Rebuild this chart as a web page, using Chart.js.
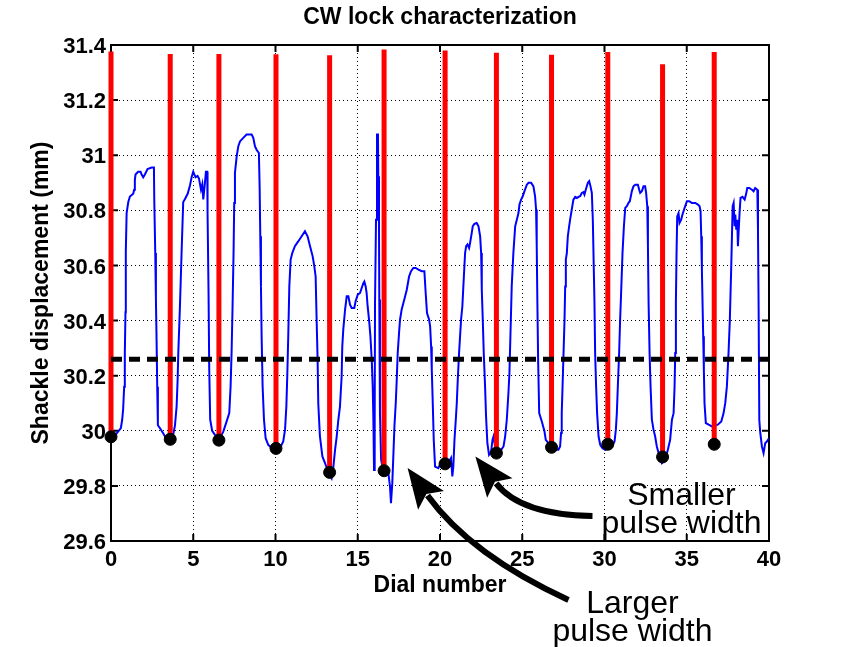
<!DOCTYPE html>
<html>
<head>
<meta charset="utf-8">
<script src="https://cdn.jsdelivr.net/npm/chart.js@4.4.1/dist/chart.umd.min.js"></script>
<style>
  html, body { margin: 0; padding: 0; background: #fff; }
  #wrap { width: 851px; height: 647px; }
</style>
</head>
<body>
<div id="wrap"><canvas id="chart" width="851" height="647"></canvas></div>
<script>
// Données (cadran en abscisse, déplacement en mm)
const dialX = [
  0.0, 0.34, 0.60, 0.68, 0.74, 0.80, 0.84, 0.88, 0.90, 0.95, 1.05, 1.15, 1.35, 1.41, 1.45, 1.49, 1.65, 1.80, 1.86, 1.96,
  2.06, 2.22, 2.47, 2.61, 2.63, 2.69, 2.73, 2.77, 2.81, 2.85, 2.97, 3.18, 3.32, 3.58, 3.78, 3.89, 3.99, 4.05, 4.09, 4.19,
  4.29, 4.39, 4.49, 4.66, 4.80, 4.90, 5.00, 5.14, 5.26, 5.35, 5.47, 5.55, 5.61, 5.71, 5.77, 5.85, 5.87, 5.93, 5.97, 6.03,
  6.15, 6.32, 6.56, 6.83, 7.03, 7.19, 7.27, 7.33, 7.39, 7.45, 7.49, 7.535, 7.64, 7.74, 7.84, 8.04, 8.24, 8.55, 8.65, 8.75,
  8.85, 8.99, 9.035, 9.075, 9.116, 9.156, 9.217, 9.30, 9.40, 9.56, 9.77, 10.03, 10.27, 10.47, 10.58, 10.66, 10.72, 10.78, 10.84, 10.92,
  11.02, 11.18, 11.39, 11.59, 11.79, 11.95, 12.10, 12.26, 12.36, 12.44, 12.50, 12.56, 12.60, 12.70, 12.85, 13.01, 13.20, 13.41, 13.52, 13.62,
  13.72, 13.82, 13.92, 14.02, 14.06, 14.12, 14.23, 14.33, 14.43, 14.53, 14.63, 14.79, 14.87, 15.00, 15.14, 15.24, 15.34, 15.40, 15.48, 15.54,
  15.60, 15.645, 15.705, 15.77, 15.85, 15.91, 15.95, 15.99, 16.03, 16.05, 16.11, 16.17, 16.23, 16.25, 16.29, 16.31, 16.35, 16.42, 16.50, 16.70,
  16.86, 16.96, 17.02, 17.10, 17.17, 17.23, 17.31, 17.37, 17.43, 17.51, 17.57, 17.67, 17.83, 17.98, 18.12, 18.24, 18.38, 18.52, 18.69, 18.89,
  19.05, 19.13, 19.21, 19.34, 19.40, 19.46, 19.50, 19.56, 19.62, 19.70, 19.90, 20.02, 20.21, 20.51, 20.67, 20.75, 20.81, 20.88, 20.96, 21.02,
  21.08, 21.16, 21.22, 21.28, 21.36, 21.42, 21.525, 21.59, 21.67, 21.77, 21.83, 21.93, 21.99, 22.09, 22.23, 22.34, 22.44, 22.50, 22.54, 22.60,
  22.66, 22.74, 22.80, 22.88, 22.98, 23.11, 23.19, 23.25, 23.39, 23.65, 23.86, 23.96, 24.06, 24.16, 24.22, 24.28, 24.36, 24.46, 24.57, 24.67,
  24.77, 24.83, 24.93, 25.03, 25.13, 25.28, 25.38, 25.54, 25.68, 25.78, 25.84, 25.88, 25.92, 25.965, 26.03, 26.19, 26.35, 26.43, 26.59, 26.78,
  27.0, 27.2, 27.30, 27.36, 27.40, 27.45, 27.51, 27.57, 27.61, 27.65, 27.71, 27.77, 27.85, 27.91, 28.01, 28.11, 28.22, 28.32, 28.42, 28.52,
  28.62, 28.72, 28.78, 28.86, 28.99, 29.07, 29.15, 29.23, 29.29, 29.33, 29.39, 29.43, 29.49, 29.55, 29.64, 29.74, 29.88, 30.04, 30.45, 30.61,
  30.69, 30.75, 30.81, 30.89, 30.95, 31.01, 31.095, 31.18, 31.26, 31.36, 31.46, 31.54, 31.60, 31.66, 31.76, 31.87, 32.03, 32.11, 32.17, 32.27,
  32.37, 32.47, 32.53, 32.60, 32.64, 32.68, 32.74, 32.80, 32.88, 32.98, 33.08, 33.18, 33.29, 33.49, 33.69, 33.85, 33.99, 34.10, 34.20, 34.26,
  34.30, 34.34, 34.38, 34.42, 34.50, 34.56, 34.66, 34.74, 34.87, 35.01, 35.15, 35.31, 35.52, 35.68, 35.78, 35.84, 35.88, 35.92, 35.96, 36.00,
  36.04, 36.08, 36.16, 36.33, 36.53, 36.89, 37.10, 37.24, 37.34, 37.44, 37.54, 37.62, 37.70, 37.79, 37.85, 37.91, 37.95, 38.01, 38.07, 38.11,
  38.15, 38.21, 38.27, 38.39, 38.52, 38.60, 38.68, 38.80, 38.96, 39.06, 39.16, 39.29, 39.33, 39.37, 39.41, 39.47, 39.57, 39.67, 39.77, 39.87,
  40.0
];
const shackleMm = [
  29.98, 29.99, 30.01, 30.04, 30.08, 30.16, 30.28, 30.43, 30.65, 30.79, 30.83, 30.85, 30.86, 30.875, 30.91, 30.93, 30.94, 30.94, 30.93, 30.92,
  30.93, 30.95, 30.955, 30.955, 30.84, 30.645, 30.48, 30.33, 30.16, 30.02, 30.01, 29.99, 29.975, 29.965, 29.985, 30.02, 30.09, 30.185, 30.28, 30.45,
  30.645, 30.83, 30.84, 30.86, 30.89, 30.92, 30.94, 30.92, 30.925, 30.915, 30.875, 30.895, 30.84, 30.90, 30.94, 30.94, 30.79, 30.50, 30.23, 30.04,
  30.00, 29.985, 29.965, 29.998, 30.034, 30.064, 30.161, 30.282, 30.45, 30.645, 30.827, 30.936, 30.996, 31.033, 31.05, 31.063, 31.075, 31.075, 31.063, 31.033,
  31.02, 31.008, 30.887, 30.706, 30.524, 30.343, 30.161, 30.04, 29.973, 29.949, 29.937, 29.935, 29.937, 29.961, 30.004, 30.088, 30.209, 30.355, 30.524, 30.621,
  30.645, 30.67, 30.688, 30.706, 30.724, 30.706, 30.67, 30.633, 30.597, 30.56, 30.403, 30.258, 30.10, 29.98, 29.907, 29.883, 29.85, 29.828, 29.87, 29.931,
  29.979, 30.04, 30.088, 30.197, 30.306, 30.367, 30.44, 30.488, 30.488, 30.458, 30.446, 30.446, 30.47, 30.494, 30.50, 30.518, 30.536, 30.542, 30.524, 30.50,
  30.452, 30.427, 30.391, 30.343, 30.258, 30.161, 30.04, 29.858, 30.04, 30.464, 30.766, 31.075, 31.075, 30.924, 30.766, 30.476, 30.064, 29.895, 29.87, 29.858,
  29.846, 29.798, 29.737, 29.81, 29.919, 30.016, 30.10, 30.185, 30.282, 30.355, 30.403, 30.44, 30.476, 30.512, 30.56, 30.579, 30.591, 30.591, 30.585, 30.579,
  30.579, 30.50, 30.427, 30.403, 30.379, 30.306, 30.222, 30.10, 29.967, 29.87, 29.864, 29.88, 29.87, 29.883, 29.901, 29.834, 29.87, 29.967, 30.04, 30.10,
  30.185, 30.282, 30.343, 30.403, 30.452, 30.524, 30.645, 30.67, 30.676, 30.663, 30.682, 30.718, 30.742, 30.751, 30.754, 30.742, 30.706, 30.645, 30.512, 30.403,
  30.282, 30.161, 30.052, 29.955, 29.913, 29.925, 29.967, 29.979, 29.931, 29.925, 29.943, 29.979, 30.04, 30.137, 30.209, 30.343, 30.524, 30.645, 30.742, 30.766,
  30.79, 30.821, 30.839, 30.851, 30.869, 30.893, 30.90, 30.90, 30.887, 30.851, 30.803, 30.67, 30.464, 30.258, 30.064, 30.034, 29.998, 29.967, 29.955, 29.94,
  29.931, 29.931, 29.943, 29.992, 30.064, 30.161, 30.282, 30.403, 30.524, 30.621, 30.645, 30.706, 30.742, 30.766, 30.803, 30.839, 30.849, 30.845, 30.849, 30.851,
  30.863, 30.866, 30.857, 30.875, 30.90, 30.906, 30.887, 30.863, 30.766, 30.645, 30.464, 30.282, 30.161, 30.064, 29.979, 29.949, 29.937, 29.931, 29.943, 29.961,
  30.004, 30.064, 30.161, 30.282, 30.403, 30.50, 30.645, 30.742, 30.809, 30.815, 30.827, 30.833, 30.851, 30.869, 30.887, 30.893, 30.893, 30.875, 30.863, 30.869,
  30.887, 30.887, 30.863, 30.815, 30.67, 30.464, 30.282, 30.161, 30.04, 30.004, 29.979, 29.943, 29.919, 29.883, 29.895, 29.931, 29.967, 30.04, 30.064, 30.161,
  30.282, 30.464, 30.645, 30.778, 30.79, 30.754, 30.766, 30.785, 30.809, 30.833, 30.833, 30.827, 30.827, 30.821, 30.815, 30.797, 30.706, 30.585, 30.464, 30.343,
  30.222, 30.10, 30.028, 30.022, 30.016, 30.022, 30.034, 30.064, 30.10, 30.161, 30.282, 30.403, 30.585, 30.815, 30.827, 30.742, 30.785, 30.73, 30.766, 30.67,
  30.718, 30.79, 30.845, 30.849, 30.839, 30.857, 30.881, 30.881, 30.875, 30.869, 30.881, 30.875, 30.73, 30.44, 30.04, 29.992, 29.943, 29.919, 29.955, 29.961,
  29.973
];

// Impulsions (barres rouges) et minima (points noirs)
const pulseX      = [0.0, 3.6, 6.56, 10.03, 13.29, 16.6, 20.31, 23.43, 26.78, 30.2, 33.53, 36.67];
const pulseBottom = [29.978, 29.969, 29.966, 29.936, 29.849, 29.855, 29.88, 29.919, 29.94, 29.951, 29.905, 29.951];
const pulseTop    = [31.376, 31.367, 31.367, 31.366, 31.363, 31.384, 31.38, 31.372, 31.365, 31.375, 31.33, 31.375];
const thresholdMm = 30.26;

const xTicks = [0, 5, 10, 15, 20, 25, 30, 35, 40];
const yTicks = [29.6, 29.8, 30, 30.2, 30.4, 30.6, 30.8, 31, 31.2, 31.4];

const chartTitle = 'CW lock characterization';

// Annotations (en unités de données)
const notes = [
  { lines: ['Smaller', 'pulse width'], x: 34.68, y: [29.764, 29.662] },
  { lines: ['Larger', 'pulse width'], x: 31.70, y: [29.370, 29.270] },
];
const arrows = [
  { tail: [27.81, 29.386], ctrl: [21.85, 29.550], tip: [18.03, 29.865] },
  { tail: [29.27, 29.691], ctrl: [24.89, 29.695], tip: [22.15, 29.907] },
];

const FONT = "'Liberation Sans', Arial, Helvetica, sans-serif";
Chart.defaults.font.family = FONT;
Chart.defaults.color = '#000';

const tracePts = dialX.map((x, i) => ({ x, y: shackleMm[i] }));
const pulsePts = [];
pulseX.forEach((x, i) => {
  pulsePts.push({ x, y: pulseBottom[i] }, { x, y: pulseTop[i] }, { x, y: null });
});
const minPts = pulseX.map((x, i) => ({ x, y: pulseBottom[i] }));

// Cadre façon MATLAB : boîte complète + graduations vers l'intérieur
const boxPlugin = {
  id: 'box',
  beforeDatasetsDraw(chart) {
    const { ctx, chartArea: a, scales } = chart;
    ctx.save();
    ctx.strokeStyle = '#000';
    ctx.lineWidth = 2;
    ctx.strokeRect(a.left, a.top, a.right - a.left, a.bottom - a.top);
    ctx.beginPath();
    xTicks.forEach(v => {
      const px = scales.x.getPixelForValue(v);
      ctx.moveTo(px, a.bottom); ctx.lineTo(px, a.bottom - 7);
      ctx.moveTo(px, a.top); ctx.lineTo(px, a.top + 7);
    });
    yTicks.forEach(v => {
      const py = scales.y.getPixelForValue(v);
      ctx.moveTo(a.left, py); ctx.lineTo(a.left + 7, py);
      ctx.moveTo(a.right, py); ctx.lineTo(a.right - 7, py);
    });
    ctx.stroke();
    ctx.restore();
  },
  afterDraw(chart) {
    const { ctx, scales, chartArea: area } = chart;
    const px = (p) => [scales.x.getPixelForValue(p[0]), scales.y.getPixelForValue(p[1])];
    ctx.save();
    ctx.fillStyle = '#000';
    ctx.strokeStyle = '#000';
    // titre centré sur la zone de tracé
    ctx.font = `bold 23px ${FONT}`;
    ctx.textAlign = 'center';
    ctx.textBaseline = 'middle';
    ctx.fillText(chartTitle, (area.left + area.right) / 2, 18);
    // flèches
    arrows.forEach(a => {
      const t = px(a.tail), c = px(a.ctrl), p = px(a.tip);
      let dx = p[0] - c[0], dy = p[1] - c[1];
      const len = Math.hypot(dx, dy); dx /= len; dy /= len;
      const L = 40, W = 16;
      const bx = p[0] - dx * L, by = p[1] - dy * L;
      ctx.lineWidth = 6;
      ctx.beginPath();
      ctx.moveTo(t[0], t[1]);
      ctx.quadraticCurveTo(c[0], c[1], bx + dx * 6, by + dy * 6);
      ctx.stroke();
      ctx.beginPath();
      ctx.moveTo(p[0], p[1]);
      ctx.lineTo(bx - dy * W, by + dx * W);
      ctx.lineTo(p[0] - dx * L * 0.8, p[1] - dy * L * 0.8);
      ctx.lineTo(bx + dy * W, by - dx * W);
      ctx.closePath();
      ctx.fill();
    });
    // textes
    ctx.font = `32px ${FONT}`;
    notes.forEach(n => {
      n.lines.forEach((s, i) => {
        const q = px([n.x, n.y[i]]);
        ctx.fillText(s, q[0], q[1]);
      });
    });
    ctx.restore();
  }
};

new Chart(document.getElementById('chart'), {
  type: 'scatter',
  data: {
    datasets: [
      {
        type: 'line', data: [{ x: 0, y: thresholdMm }, { x: 40, y: thresholdMm }],
        borderColor: '#000', borderWidth: 5, borderDash: [11, 7], pointRadius: 0, order: 0
      },
      {
        data: minPts, backgroundColor: '#000', borderColor: '#000', pointRadius: 6,
        pointHoverRadius: 6, clip: false, order: 1
      },
      {
        type: 'line', data: pulsePts, borderColor: '#ff0000', borderWidth: 5, borderCapStyle: 'butt',
        pointRadius: 0, spanGaps: false, clip: false, order: 2
      },
      {
        type: 'line', data: tracePts, borderColor: '#0000ff', borderWidth: 2, pointRadius: 0,
        tension: 0, order: 3
      }
    ]
  },
  options: {
    responsive: false,
    animation: false,
    devicePixelRatio: 1,
    layout: { padding: { left: 0, right: 82, top: 45, bottom: 0 } },
    plugins: {
      legend: { display: false },
      tooltip: { enabled: false },
      title: { display: false }
    },
    scales: {
      x: {
        type: 'linear', min: 0, max: 40,
        afterBuildTicks: s => { s.ticks = xTicks.map(v => ({ value: v })); },
        afterFit: s => { s.height = 106; },
        ticks: { autoSkip: false, maxRotation: 0, padding: 6, color: '#000', font: { size: 22, weight: 'bold' } },
        grid: { color: '#000', lineWidth: 1, drawTicks: false, borderDash: [1, 3] },
        border: { display: false, dash: [1, 3] },
        title: { display: true, text: 'Dial number', color: '#000', font: { size: 23, weight: 'bold' }, padding: { top: 0, bottom: 48 } }
      },
      y: {
        type: 'linear', min: 29.6, max: 31.4,
        afterBuildTicks: s => { s.ticks = yTicks.map(v => ({ value: v })); },
        afterFit: s => { s.width = 111; },
        ticks: {
          autoSkip: false, padding: 5, labelOffset: 2, color: '#000', font: { size: 22, weight: 'bold' },
          callback: v => String(Math.round(v * 10) / 10)
        },
        grid: { color: '#000', lineWidth: 1, drawTicks: false, borderDash: [1, 3] },
        border: { display: false, dash: [1, 3] },
        title: { display: true, text: 'Shackle displacement (mm)', color: '#000', font: { size: 23, weight: 'bold' }, padding: { top: 28, bottom: 0 } }
      }
    }
  },
  plugins: [boxPlugin]
});
</script>
</body>
</html>
